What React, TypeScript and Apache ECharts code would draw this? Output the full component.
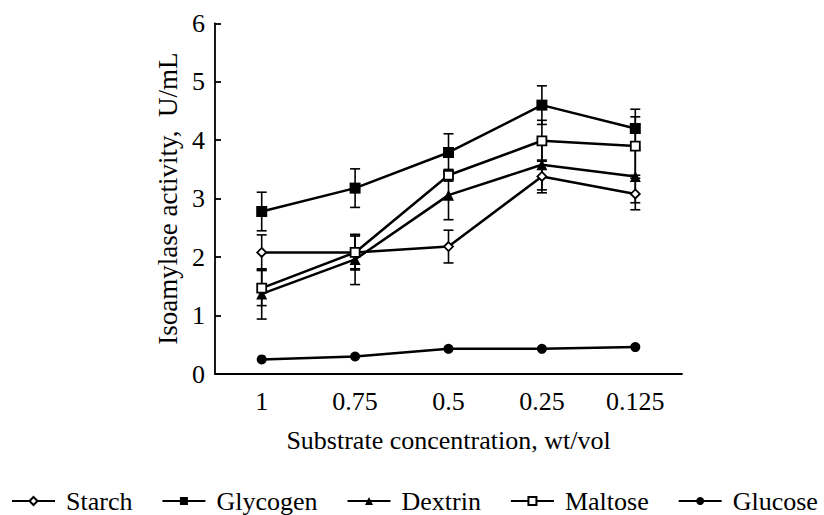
import React, { useEffect, useRef } from "react";
import * as echarts from "echarts";

const categories = ["1", "0.75", "0.5", "0.25", "0.125"];
const yTicks = [0, 1, 2, 3, 4, 5, 6];

const starch = [2.08, 2.08, 2.18, 3.38, 3.08];
const starchErr = [0.3, 0.28, 0.28, 0.28, 0.27];
const glycogen = [2.78, 3.18, 3.79, 4.6, 4.2];
const glycogenErr = [0.33, 0.33, 0.32, 0.33, 0.33];
const dextrin = [1.37, 1.96, 3.06, 3.58, 3.38];
const dextrinErr = [0.43, 0.43, 0.42, 0.43, 0.45];
const maltose = [1.47, 2.08, 3.4, 3.99, 3.9];
const maltoseErr = [0.3, 0.3, 0.1, 0.35, 0.5];
const glucose = [0.25, 0.3, 0.43, 0.43, 0.46];

const FONT = "'Liberation Serif', 'Times New Roman', serif";

function errData(vals: number[], errs: number[]) {
  return vals.map((v, i) => [i, v - errs[i], v + errs[i]]);
}

export default function App() {
  const ref = useRef<HTMLDivElement>(null);
  useEffect(() => {
    if (!ref.current) return;
    const chart = echarts.init(ref.current, undefined, { renderer: "svg" });

    const errRender = (params: any, api: any) => {
      const x = api.value(0);
      const lo = api.coord([x, api.value(1)]);
      const hi = api.coord([x, api.value(2)]);
      const hw = 5;
      const style = { stroke: "#000", lineWidth: 1.6 };
      return {
        type: "group",
        children: [
          { type: "line", shape: { x1: lo[0], y1: lo[1], x2: hi[0], y2: hi[1] }, style },
          { type: "line", shape: { x1: lo[0] - hw, y1: lo[1], x2: lo[0] + hw, y2: lo[1] }, style },
          { type: "line", shape: { x1: hi[0] - hw, y1: hi[1], x2: hi[0] + hw, y2: hi[1] }, style },
        ],
      };
    };

    const errSeries = (vals: number[], errs: number[]) => ({
      type: "custom",
      renderItem: errRender,
      data: errData(vals, errs),
      z: 1,
      silent: true,
      encode: { x: 0, y: [1, 2] },
    });

    const lineSeries = (
      name: string,
      data: number[],
      symbol: string,
      size: number,
      hollow: boolean
    ) => ({
      name,
      type: "line",
      data,
      symbol,
      symbolSize: size,
      showSymbol: true,
      z: 3,
      lineStyle: { color: "#000", width: 2.5 },
      itemStyle: hollow
        ? { color: "#fff", borderColor: "#000", borderWidth: 1.8 }
        : { color: "#000", borderColor: "#000", borderWidth: 0 },
    });

    chart.setOption({
      animation: false,
      backgroundColor: "#fff",
      textStyle: { fontFamily: FONT, color: "#000" },
      grid: { left: 215, right: 142, top: 23.3, bottom: 141 },
      legend: {
        data: ["Starch", "Glycogen", "Dextrin", "Maltose", "Glucose"],
        left: 11,
        top: 488,
        width: 822,
        padding: 0,
        itemWidth: 43,
        itemHeight: 10,
        itemGap: 29,
        textStyle: { fontFamily: FONT, fontSize: 26, color: "#000", padding: [0, 0, 0, 6] },
      },
      xAxis: {
        type: "category",
        data: categories,
        boundaryGap: true,
        name: "Substrate concentration, wt/vol",
        nameLocation: "middle",
        nameGap: 53,
        nameTextStyle: { fontFamily: FONT, fontSize: 26, color: "#000" },
        axisLine: { lineStyle: { color: "#000", width: 1.8 } },
        axisTick: { inside: true, length: 8, lineStyle: { color: "#000", width: 1.8 } },
        axisLabel: { fontFamily: FONT, fontSize: 26, color: "#000", margin: 14 },
        splitLine: { show: false },
      },
      yAxis: {
        type: "value",
        min: yTicks[0],
        max: yTicks[yTicks.length - 1],
        interval: 1,
        name: "Isoamylase activity,  U/mL",
        nameLocation: "middle",
        nameGap: 34,
        nameTextStyle: { fontFamily: FONT, fontSize: 27, color: "#000" },
        axisLine: { show: true, lineStyle: { color: "#000", width: 1.8 } },
        axisTick: { show: true, inside: true, length: 6, lineStyle: { color: "#000", width: 1.8 } },
        axisLabel: { fontFamily: FONT, fontSize: 26, color: "#000", margin: 10 },
        splitLine: { show: false },
      },
      series: [
        errSeries(starch, starchErr),
        errSeries(glycogen, glycogenErr),
        errSeries(dextrin, dextrinErr),
        errSeries(maltose, maltoseErr),
        lineSeries("Starch", starch, "diamond", 9, true),
        lineSeries("Glycogen", glycogen, "rect", 11, false),
        lineSeries("Dextrin", dextrin, "triangle", 11, false),
        lineSeries("Maltose", maltose, "rect", 9, true),
        lineSeries("Glucose", glucose, "circle", 10, false),
      ],
    });
    return () => chart.dispose();
  }, []);

  return <div ref={ref} style={{ width: 824, height: 515, position: "absolute", left: 0, top: 0 }} />;
}
